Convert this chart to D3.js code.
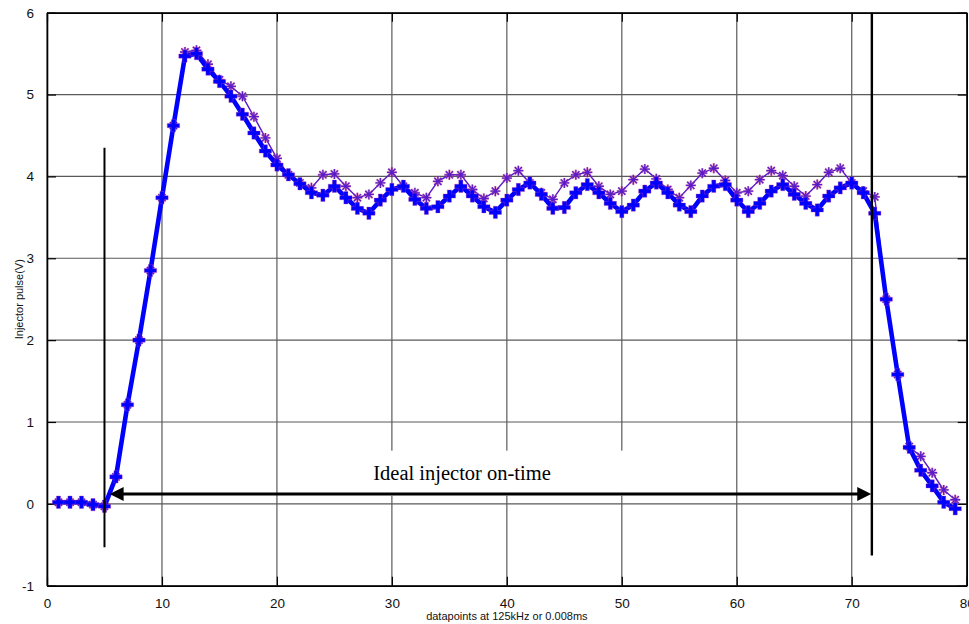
<!DOCTYPE html>
<html>
<head>
<meta charset="utf-8">
<script src="https://cdn.jsdelivr.net/npm/d3@7"></script>
<style>
  body { margin: 0; background: #fff; }
  svg { display: block; }
</style>
</head>
<body>
<script>
const width = 969,
  height = 624;
const margin = { top: 12.7, right: 2.3, bottom: 38.3, left: 47 };
const innerWidth = width - margin.left - margin.right;
const innerHeight = height - margin.top - margin.bottom;

// datapoint index
const points = [1, 2, 3, 4, 5, 6, 7, 8, 9, 10, 11, 12, 13, 14, 15, 16, 17, 18, 19, 20,
  21, 22, 23, 24, 25, 26, 27, 28, 29, 30, 31, 32, 33, 34, 35, 36, 37, 38, 39, 40,
  41, 42, 43, 44, 45, 46, 47, 48, 49, 50, 51, 52, 53, 54, 55, 56, 57, 58, 59, 60,
  61, 62, 63, 64, 65, 66, 67, 68, 69, 70, 71, 72, 73, 74, 75, 76, 77, 78, 79];

// thick blue trace (+ markers)
const pulseBlue = [0.02, 0.02, 0.02, -0.01, -0.03, 0.33, 1.21, 2.0, 2.85, 3.74,
  4.62, 5.47, 5.5, 5.31, 5.16, 4.98, 4.76, 4.53, 4.31, 4.14,
  4.02, 3.91, 3.8, 3.77, 3.88, 3.74, 3.61, 3.55, 3.71, 3.84,
  3.88, 3.72, 3.61, 3.63, 3.76, 3.88, 3.76, 3.63, 3.56, 3.71,
  3.84, 3.92, 3.78, 3.61, 3.62, 3.8, 3.9, 3.8, 3.67, 3.57,
  3.65, 3.82, 3.92, 3.8, 3.65, 3.57, 3.76, 3.88, 3.9, 3.71,
  3.57, 3.67, 3.82, 3.9, 3.78, 3.67, 3.59, 3.76, 3.86, 3.92,
  3.8, 3.55, 2.5, 1.58, 0.69, 0.41, 0.22, 0.02, -0.06];

// thin purple trace (* markers)
const pulsePurple = [0.02, 0.02, 0.02, -0.01, -0.03, 0.33, 1.21, 2.0, 2.85, 3.74,
  4.62, 5.52, 5.54, 5.37, 5.18, 5.1, 4.98, 4.73, 4.47, 4.22,
  4.02, 3.92, 3.86, 4.02, 4.03, 3.88, 3.74, 3.78, 3.92, 4.05,
  3.88, 3.8, 3.74, 3.94, 4.02, 4.02, 3.84, 3.73, 3.82, 3.98,
  4.07, 3.92, 3.8, 3.72, 3.92, 4.02, 4.05, 3.88, 3.78, 3.82,
  3.96, 4.09, 3.97, 3.84, 3.74, 3.89, 4.04, 4.1, 3.95, 3.8,
  3.82, 3.96, 4.07, 4.01, 3.88, 3.76, 3.9, 4.05, 4.1, 3.92,
  3.82, 3.75, 2.5, 1.58, 0.7, 0.58, 0.38, 0.17, 0.05];

const xTicks = [0, 10, 20, 30, 40, 50, 60, 70, 80];
const yTicks = [-1, 0, 1, 2, 3, 4, 5, 6];

const xScale = d3.scaleLinear().domain([0, 80]).range([0, innerWidth]);
const yScale = d3.scaleLinear().domain([-1, 6]).range([innerHeight, 0]);

const svg = d3.select("body").append("svg")
  .attr("width", width)
  .attr("height", height);

const mainG = svg.append("g")
  .attr("transform", `translate(${margin.left},${margin.top})`);

// grid
mainG.append("g").selectAll("line").data(xTicks).enter().append("line")
  .attr("x1", d => xScale(d)).attr("x2", d => xScale(d))
  .attr("y1", 0).attr("y2", innerHeight)
  .attr("stroke", "#5a5a5a").attr("stroke-width", 1.2);
mainG.append("g").selectAll("line").data(yTicks).enter().append("line")
  .attr("x1", 0).attr("x2", innerWidth)
  .attr("y1", d => yScale(d)).attr("y2", d => yScale(d))
  .attr("stroke", "#5a5a5a").attr("stroke-width", 1.2);

// white label box that hides the grid behind the annotation
mainG.append("rect")
  .attr("x", xScale(20.5)).attr("y", yScale(0.65))
  .attr("width", xScale(59) - xScale(20.5))
  .attr("height", yScale(0.1) - yScale(0.65))
  .attr("fill", "#fff");

// axes (MATLAB style: ticks inside on all four sides)
const tickLen = 9;
const fmt = d => String(d); // plain hyphen for -1
const xAxisB = d3.axisBottom(xScale).tickValues(xTicks).tickFormat(fmt).tickSizeInner(-tickLen).tickSizeOuter(0).tickPadding(13);
const xAxisT = d3.axisTop(xScale).tickValues(xTicks).tickSizeInner(-tickLen).tickSizeOuter(0).tickFormat("");
const yAxisL = d3.axisLeft(yScale).tickValues(yTicks).tickFormat(fmt).tickSizeInner(-tickLen).tickSizeOuter(0).tickPadding(13);
const yAxisR = d3.axisRight(yScale).tickValues(yTicks).tickSizeInner(-tickLen).tickSizeOuter(0).tickFormat("");

const axes = [
  mainG.append("g").attr("id", "x-axis").attr("transform", `translate(0,${innerHeight})`).call(xAxisB),
  mainG.append("g").call(xAxisT),
  mainG.append("g").attr("id", "y-axis").call(yAxisL),
  mainG.append("g").attr("transform", `translate(${innerWidth},0)`).call(yAxisR)
];
axes.forEach(a => {
  a.select(".domain").attr("stroke", "#000").attr("stroke-width", 1.6);
  a.selectAll(".tick line").attr("stroke", "#000").attr("stroke-width", 1.2);
  a.selectAll(".tick text")
    .attr("font-family", "'Liberation Sans', Arial, sans-serif")
    .attr("font-size", 13.5)
    .attr("fill", "#111");
});

// data
const line = d3.line().x(d => xScale(d[0])).y(d => yScale(d[1]));
const purpleData = points.map((p, i) => [p, pulsePurple[i]]);
const blueData = points.map((p, i) => [p, pulseBlue[i]]);

mainG.append("path")
  .datum(purpleData)
  .attr("d", line)
  .attr("fill", "none")
  .attr("stroke", "#5a18c8")
  .attr("stroke-width", 1.4);

const star = "M-5,0L5,0M0,-5L0,5M-3.6,-3.6L3.6,3.6M-3.6,3.6L3.6,-3.6";
const starG = mainG.append("g").selectAll("g").data(purpleData).enter().append("g")
  .attr("transform", d => `translate(${xScale(d[0])},${yScale(d[1])})`);
starG.append("path").attr("d", star).attr("fill", "none")
  .attr("stroke", "#d8508a").attr("stroke-width", 2.4).attr("stroke-opacity", 0.55);
starG.append("path").attr("d", star).attr("fill", "none")
  .attr("stroke", "#5a1ec8").attr("stroke-width", 1.3);

mainG.append("path")
  .datum(blueData)
  .attr("d", line)
  .attr("fill", "none")
  .attr("stroke", "#0000ff")
  .attr("stroke-width", 4.6)
  .attr("stroke-linejoin", "round");

const cross = d3.symbol().type(d3.symbolCross).size(85);
mainG.append("g").selectAll("path").data(blueData).enter().append("path")
  .attr("d", cross)
  .attr("transform", d => `translate(${xScale(d[0])},${yScale(d[1])})`)
  .attr("fill", "#0000ff")
  .attr("stroke", "#c83c9a")
  .attr("stroke-width", 0.6)
  .attr("stroke-opacity", 0.6);

// annotation: on-time markers and arrow
mainG.append("line")
  .attr("x1", xScale(5)).attr("x2", xScale(5))
  .attr("y1", yScale(4.35)).attr("y2", yScale(-0.53))
  .attr("stroke", "#000").attr("stroke-width", 2);
mainG.append("line")
  .attr("x1", xScale(71.75)).attr("x2", xScale(71.75))
  .attr("y1", yScale(6)).attr("y2", yScale(-0.63))
  .attr("stroke", "#000").attr("stroke-width", 2.4);

const arrowY = yScale(0.12);
const ax1 = xScale(5.45), ax2 = xScale(71.7);
mainG.append("line")
  .attr("x1", ax1 + 12).attr("x2", ax2 - 12)
  .attr("y1", arrowY).attr("y2", arrowY)
  .attr("stroke", "#000").attr("stroke-width", 3.2);
mainG.append("path")
  .attr("d", `M${ax1},${arrowY}L${ax1 + 14},${arrowY - 7}L${ax1 + 14},${arrowY + 7}Z`)
  .attr("fill", "#000");
mainG.append("path")
  .attr("d", `M${ax2},${arrowY}L${ax2 - 14},${arrowY - 7}L${ax2 - 14},${arrowY + 7}Z`)
  .attr("fill", "#000");

mainG.append("text")
  .attr("x", xScale(36.1))
  .attr("y", yScale(0.29))
  .attr("text-anchor", "middle")
  .attr("font-family", "'Liberation Serif', 'Times New Roman', serif")
  .attr("font-size", 20.5)
  .attr("fill", "#000")
  .text("Ideal injector on-time");

// axis labels
mainG.append("text")
  .attr("x", innerWidth / 2)
  .attr("y", innerHeight + 34)
  .attr("text-anchor", "middle")
  .attr("font-family", "'Liberation Sans', Arial, sans-serif")
  .attr("font-size", 11)
  .attr("fill", "#111")
  .text("datapoints at 125kHz or 0.008ms");

mainG.append("text")
  .attr("transform", `translate(-24,${innerHeight / 2}) rotate(-90)`)
  .attr("text-anchor", "middle")
  .attr("font-family", "'Liberation Sans', Arial, sans-serif")
  .attr("font-size", 11)
  .attr("fill", "#111")
  .text("Injector pulse(V)");
</script>
</body>
</html>
